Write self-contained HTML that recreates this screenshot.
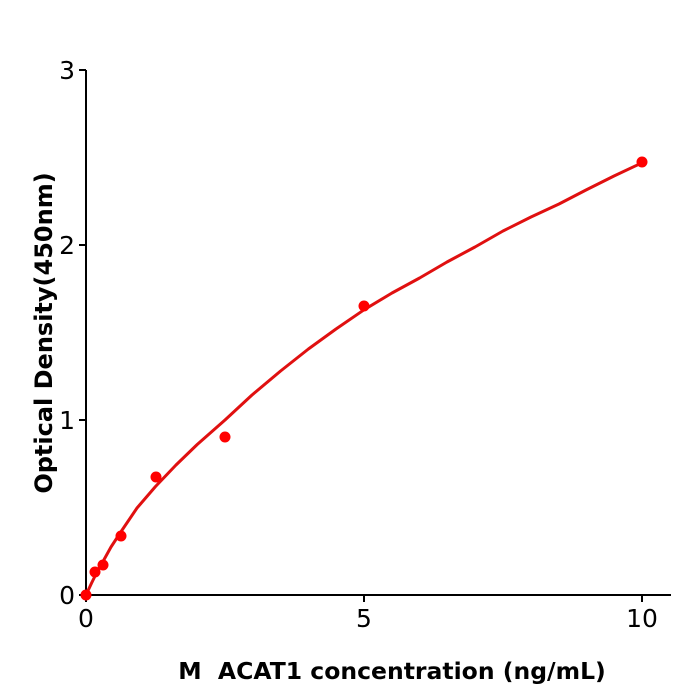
<!DOCTYPE html>
<html><head><meta charset="utf-8"><style>
html,body{margin:0;padding:0;background:#fff;}
svg{display:block;font-family:"DejaVu Sans","Liberation Sans",sans-serif;}
</style></head><body>
<svg width="700" height="700" viewBox="0 0 700 700">
<g stroke="#000" stroke-width="2" fill="none">
<line x1="86" y1="70" x2="86" y2="596"/>
<line x1="85" y1="595" x2="671" y2="595"/>
<line x1="79" y1="70" x2="86" y2="70"/>
<line x1="79" y1="245" x2="86" y2="245"/>
<line x1="79" y1="420" x2="86" y2="420"/>
<line x1="79" y1="595" x2="86" y2="595"/>
<line x1="86" y1="595" x2="86" y2="602"/>
<line x1="364" y1="595" x2="364" y2="602"/>
<line x1="642" y1="595" x2="642" y2="602"/>
</g>
<g font-size="25" fill="#000" text-anchor="end">
<text x="75" y="79">3</text>
<text x="75" y="254">2</text>
<text x="75" y="429">1</text>
<text x="75" y="604">0</text>
</g>
<g font-size="25" fill="#000" text-anchor="middle">
<text x="86" y="627">0</text>
<text x="364" y="627">5</text>
<text x="642" y="627">10</text>
</g>
<text x="392" y="679" font-size="23.5" font-weight="bold" text-anchor="middle">M&#160; ACAT1 concentration (ng/mL)</text>
<text transform="translate(52,333) rotate(-90)" font-size="24" font-weight="bold" text-anchor="middle">Optical Density(450nm)</text>
<polyline fill="none" stroke="#e01010" stroke-width="3" stroke-linejoin="round" points="86,595 91.6,583 97,572 102.7,562 111,547 120.8,532 137,508 155.5,486.5 176,465 197.2,444.5 225,420 252,395 280.6,371 308.4,349 336,329 364,309.8 392,293 419.6,278 447,262 475,247 503,231 531,217 559,204 586,190 614,176 642,162.8"/>
<g fill="#f00">
<circle cx="86" cy="595" r="5.5"/>
<circle cx="95" cy="572" r="5.5"/>
<circle cx="103" cy="565" r="5.5"/>
<circle cx="121" cy="536" r="5.5"/>
<circle cx="156" cy="477" r="5.5"/>
<circle cx="225" cy="437" r="5.5"/>
<circle cx="364" cy="306" r="5.5"/>
<circle cx="642" cy="162" r="5.5"/>
</g>
</svg>
</body></html>
